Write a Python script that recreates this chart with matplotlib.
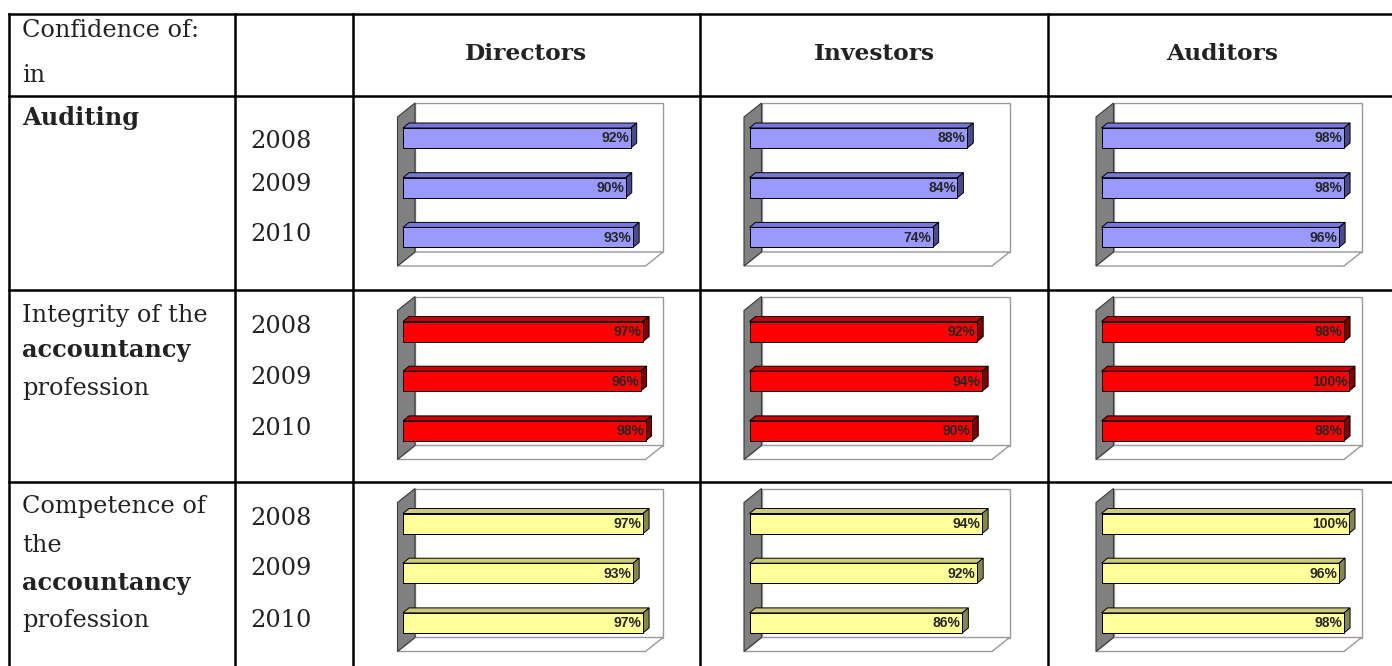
import matplotlib
matplotlib.use("Agg")
import matplotlib.pyplot as plt
from matplotlib.patches import Polygon, Rectangle

# ---------------- data ----------------
groups = ["Directors", "Investors", "Auditors"]
years = ["2008", "2009", "2010"]

auditing_directors = [92, 90, 93]
auditing_investors = [88, 84, 74]
auditing_auditors = [98, 98, 96]

integrity_directors = [97, 96, 98]
integrity_investors = [92, 94, 90]
integrity_auditors = [98, 100, 98]

competence_directors = [97, 93, 97]
competence_investors = [94, 92, 86]
competence_auditors = [100, 96, 98]

row_labels = [
    [("Auditing", "bold")],
    [("Integrity of the", "normal"), ("accountancy", "bold"), ("profession", "normal")],
    [("Competence of", "normal"), ("the", "normal"), ("accountancy", "bold"), ("profession", "normal")],
]
header_label = ["Confidence of:", "in"]

rows_values = [
    [auditing_directors, auditing_investors, auditing_auditors],
    [integrity_directors, integrity_investors, integrity_auditors],
    [competence_directors, competence_investors, competence_auditors],
]

# colours per row: (front, top, side)
row_colors = [
    ("#9999FF", "#7777D9", "#4B4B8C"),
    ("#FF0000", "#CC0000", "#800000"),
    ("#FFFF99", "#CCCC77", "#85854F"),
]

# ---------------- layout (pixels) ----------------
W, H = 1392, 666
DPI = 100
SERIF = ["DejaVu Serif"]
SANS = ["Liberation Sans", "DejaVu Sans"]
TFS = 17.3

fig = plt.figure(figsize=(W / DPI, H / DPI), dpi=DPI)
bg = fig.add_axes([0, 0, 1, 1])
bg.set_xlim(0, W)
bg.set_ylim(H, 0)
bg.axis("off")

col_lines = [9, 235, 353, 700, 1048]
row_lines = [14, 96, 290, 482]
LW = 1.8
for x in col_lines:
    bg.plot([x, x], [row_lines[0], H + 5], color="black", lw=LW, solid_capstyle="projecting")
for y in row_lines:
    bg.plot([col_lines[0], W + 5], [y, y], color="black", lw=LW, solid_capstyle="projecting")

TXT = "#222222"
# header
bg.text(22, 37, header_label[0], family=SERIF, fontsize=TFS, color=TXT, va="baseline")
bg.text(22, 82, header_label[1], family=SERIF, fontsize=TFS, color=TXT, va="baseline")
col_centers = [526.5, 874, 1222]
for g, cx in zip(groups, col_centers):
    bg.text(cx, 60, g, family=SERIF, fontsize=TFS - 0.5, fontweight="bold", color=TXT,
            ha="center", va="baseline")

label_baselines = [[125], [322, 357, 395], [513, 552, 590, 627]]
year_baselines = [[148, 191, 241], [333, 384, 435], [525, 575, 627]]
for r in range(3):
    for (txt, wt), yb in zip(row_labels[r], label_baselines[r]):
        bg.text(22, yb, txt, family=SERIF, fontsize=TFS, fontweight=wt, color=TXT, va="baseline")
    for yr, yb in zip(years, year_baselines[r]):
        bg.text(250, yb, yr, family=SERIF, fontsize=TFS, color=TXT, va="baseline")

# ---------------- 3D bar panels ----------------
S = 2.475      # px per percent
P = 49.7       # px per category
bar0_x = [403, 749.5, 1101.5]
bar0_y = [138, 331.5, 523.5]
BH = 20        # bar front height px
BDX, BDY = 6, 5  # bar depth px
WF = -5.5      # wall front x offset px
D, DY = 17.5, 14  # chart depth px
BACK_R = 260   # back plane right px
TOP, BOT = -35, 114

for r in range(3):
    front, topc, side = row_colors[r]
    for c in range(3):
        vals = rows_values[r][c]
        x0, y0 = bar0_x[c], bar0_y[r]
        left, right = x0 - 9, x0 + 266
        top, bottom = y0 - 38, y0 + 133
        ax = fig.add_axes([left / W, 1 - bottom / H, (right - left) / W, (bottom - top) / H])
        ax.set_xlim((left - x0) / S, (right - x0) / S)
        ax.set_ylim((bottom - y0) / P, (top - y0) / P)
        ax.axis("off")
        ax.patch.set_alpha(0)

        def px(x, y):
            return (x / S, y / P)

        # back plane
        ax.add_patch(Polygon([px(WF + D, TOP), px(BACK_R, TOP), px(BACK_R, BOT), px(WF + D, BOT)],
                             closed=True, facecolor="white", edgecolor="#9A9A9A", lw=1.0, zorder=1))
        # floor
        ax.add_patch(Polygon([px(WF, BOT + DY), px(BACK_R - D, BOT + DY), px(BACK_R, BOT), px(WF + D, BOT)],
                             closed=True, facecolor="white", edgecolor="#9A9A9A", lw=1.0, zorder=1))
        # side wall
        ax.add_patch(Polygon([px(WF, TOP + DY), px(WF + D, TOP), px(WF + D, BOT), px(WF, BOT + DY)],
                             closed=True, facecolor="#808080", edgecolor="#3A3A3A", lw=0.8, zorder=2))

        dxu, dyu = BDX / S, BDY / P
        hh = (BH / 2) / P
        for i, v in enumerate(vals):
            # top face
            ax.add_patch(Polygon([(0, i - hh), (v, i - hh), (v + dxu, i - hh - dyu), (dxu, i - hh - dyu)],
                                 closed=True, facecolor=topc, edgecolor="black", lw=0.7, zorder=3))
            # side face
            ax.add_patch(Polygon([(v, i - hh), (v + dxu, i - hh - dyu), (v + dxu, i + hh - dyu), (v, i + hh)],
                                 closed=True, facecolor=side, edgecolor="black", lw=0.7, zorder=3))
            # front face
            ax.add_patch(Rectangle((0, i - hh), v, 2 * hh, facecolor=front, edgecolor="black",
                                   lw=0.7, zorder=4))
            ax.text(v - 1.5 / S, i + 0.5 / P, f"{v}%", family=SANS, fontsize=10, fontweight="bold",
                    color="#262626", ha="right", va="center", zorder=5)

fig.savefig("out.png", dpi=DPI)
